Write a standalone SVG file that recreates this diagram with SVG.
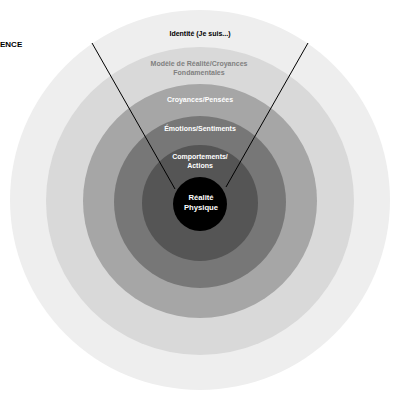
<svg xmlns="http://www.w3.org/2000/svg" width="400" height="400" viewBox="0 0 400 400">
<style>
text{font-family:"Liberation Sans",Arial,sans-serif;font-weight:bold;text-anchor:middle;font-size:7px}
.w{fill:#ffffff}
.k{fill:#000000}
.g{fill:#808080}
.conn{stroke:#000;stroke-width:1;fill:none}
</style>
<rect width="400" height="400" fill="#ffffff"/>
<g id="identite">
<circle cx="200" cy="200" r="190" fill="#eeeeee"/>
<text class="k" x="200" y="36">Identité (Je suis...)</text>
</g>
<g id="modele">
<circle cx="200" cy="201" r="154" fill="#d9d9d9"/>
<text class="g" x="199" y="66">Modèle de Réalité/Croyances</text>
<text class="g" x="199" y="75">Fondamentales</text>
</g>
<g id="croyances">
<circle cx="200" cy="201" r="117" fill="#a6a6a6"/>
<text class="w" x="200" y="101.5">Croyances/Pensées</text>
</g>
<g id="emotions">
<circle cx="200" cy="202" r="86" fill="#777777"/>
<text class="w" x="200" y="131">Émotions/Sentiments</text>
</g>
<g id="comportements">
<circle cx="200" cy="203" r="58" fill="#555555"/>
<text class="w" x="200" y="159">Comportements/</text>
<text class="w" x="200" y="168">Actions</text>
</g>
<g id="realite">
<circle cx="200" cy="204" r="27" fill="#000000"/>
<text class="w" x="201" y="199.5" style="font-size:7.7px">Réalité</text>
<text class="w" x="201" y="209.5" style="font-size:7.7px">Physique</text>
</g>
<g id="label-ence">
<text class="k" x="0" y="47" style="text-anchor:start;font-size:8px">ENCE</text>
</g>
<g id="connectors">
<line class="conn" x1="92" y1="43" x2="175" y2="189"/>
<line class="conn" x1="308" y1="43" x2="226" y2="187"/>
</g>
</svg>
